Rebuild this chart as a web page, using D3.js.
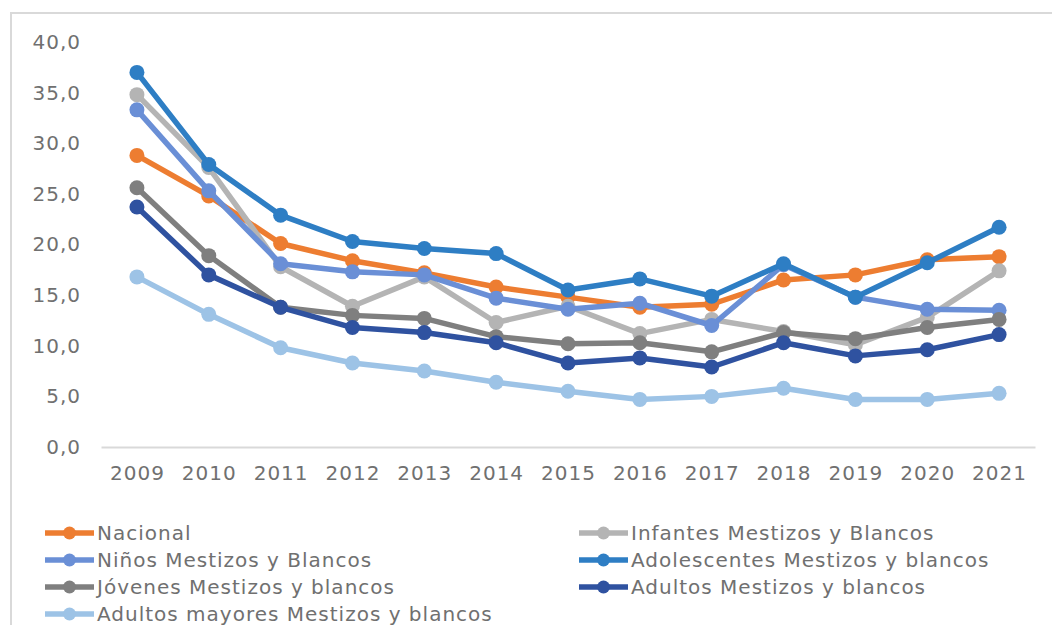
<!DOCTYPE html>
<html>
<head>
<meta charset="utf-8">
<script src="https://cdn.jsdelivr.net/npm/d3@7"></script>
<style>
  body { margin: 0; background: #fff; }
  svg text { font-family: "DejaVu Sans", sans-serif; fill: #707070; letter-spacing: 1px; }
</style>
</head>
<body>
<svg id="chart"></svg>
<script>
/*Data*/
const years = ["2009","2010","2011","2012","2013","2014","2015","2016","2017","2018","2019","2020","2021"];
const seriesNames = [
  "Nacional",
  "Infantes Mestizos y Blancos",
  "Niños Mestizos y Blancos",
  "Adolescentes Mestizos y blancos",
  "Jóvenes Mestizos y blancos",
  "Adultos Mestizos y blancos",
  "Adultos mayores Mestizos y blancos"
];
const nacional       = [28.8, 24.8, 20.1, 18.4, 17.2, 15.8, 14.8, 13.8, 14.1, 16.5, 17.0, 18.5, 18.8];
const infantes       = [34.8, 27.6, 17.8, 13.9, 16.8, 12.3, 13.9, 11.2, 12.6, 11.4, 10.1, 12.8, 17.4];
const ninos          = [33.3, 25.3, 18.1, 17.3, 17.0, 14.7, 13.6, 14.2, 12.0, 18.0, 14.8, 13.6, 13.5];
const adolescentes   = [37.0, 27.9, 22.9, 20.3, 19.6, 19.1, 15.5, 16.6, 14.9, 18.1, 14.8, 18.2, 21.7];
const jovenes        = [25.6, 18.9, 13.8, 13.0, 12.7, 10.9, 10.2, 10.3,  9.4, 11.3, 10.7, 11.8, 12.6];
const adultos        = [23.7, 17.0, 13.8, 11.8, 11.3, 10.3,  8.3,  8.8,  7.9, 10.3,  9.0,  9.6, 11.1];
const adultosMayores = [16.8, 13.1,  9.8,  8.3,  7.5,  6.4,  5.5,  4.7,  5.0,  5.8,  4.7,  4.7,  5.3];
const seriesValues = [nacional, infantes, ninos, adolescentes, jovenes, adultos, adultosMayores];
const colors = ["#ed7d31", "#b4b4b4", "#6a8fd6", "#2e7ec4", "#7f7f7f", "#2f52a0", "#9dc3e6"];
const yTicks = [0, 5, 10, 15, 20, 25, 30, 35, 40];

/*Set up SVG canvas*/
const width = 1052;
const height = 625;
const margin = {left: 101, right: 17, top: 42, bottom: 178};

const svg = d3.select("#chart")
       .attr("width", width)
       .attr("height", height);

/*light frame round the chart area (right/bottom edges fall outside)*/
svg.append("rect")
       .attr("x", 11)
       .attr("y", 13)
       .attr("width", width + 20)
       .attr("height", height + 20)
       .attr("fill", "none")
       .attr("stroke", "#d9d9d9")
       .attr("stroke-width", 2);

const x = d3.scalePoint()
       .domain(years)
       .range([margin.left, width - margin.right])
       .padding(0.5);

const y = d3.scaleLinear()
       .domain([0, 40])
       .range([height - margin.bottom, margin.top]);

/*Y axis, labels only*/
const yAxis = d3.axisLeft(y)
       .tickValues(yTicks)
       .tickSize(0)
       .tickPadding(0)
       .tickFormat(d => d3.format(".1f")(d).replace(".", ","));

svg.append("g")
       .attr("transform", "translate(81,0)")
       .call(yAxis)
       .call(g => g.select(".domain").remove())
       .selectAll("text")
       .style("font-size", "20px");

/*X axis*/
const xAxis = d3.axisBottom(x).tickSize(0).tickPadding(19);
svg.append("g")
       .attr("transform", "translate(0," + y(0) + ")")
       .call(xAxis)
       .call(g => g.select(".domain").attr("stroke", "#d9d9d9").attr("stroke-width", 2))
       .selectAll("text")
       .style("font-size", "20px");

/*Lines and markers*/
const line = d3.line()
       .x((d, i) => x(years[i]))
       .y(d => y(d));

const seriesG = svg.append("g").attr("id", "series");
seriesValues.forEach((vals, s) => {
       const g = seriesG.append("g");
       g.append("path")
              .attr("d", line(vals))
              .attr("fill", "none")
              .attr("stroke", colors[s])
              .attr("stroke-width", 5.5)
              .attr("stroke-linejoin", "round");
       g.selectAll("circle")
              .data(vals)
              .enter()
              .append("circle")
              .attr("cx", (d, i) => x(years[i]))
              .attr("cy", d => y(d))
              .attr("r", 7.5)
              .attr("fill", colors[s]);
});

/*Legend, two columns*/
const legendCols = [45, 579];
const legendTop = 533;
const legendRow = 27;
const legend = svg.append("g").attr("id", "legend");
seriesNames.forEach((name, i) => {
       const lx = legendCols[i % 2];
       const ly = legendTop + Math.floor(i / 2) * legendRow;
       const item = legend.append("g").attr("transform", "translate(" + lx + "," + ly + ")");
       item.append("line")
              .attr("x1", 0).attr("x2", 49)
              .attr("y1", 0).attr("y2", 0)
              .attr("stroke", colors[i])
              .attr("stroke-width", 5.5);
       item.append("circle")
              .attr("cx", 24.5).attr("cy", 0).attr("r", 6.5)
              .attr("fill", colors[i]);
       item.append("text")
              .attr("x", 52)
              .attr("y", 0)
              .attr("dy", "0.35em")
              .style("font-size", "20px")
              .text(name);
});
</script>
</body>
</html>
